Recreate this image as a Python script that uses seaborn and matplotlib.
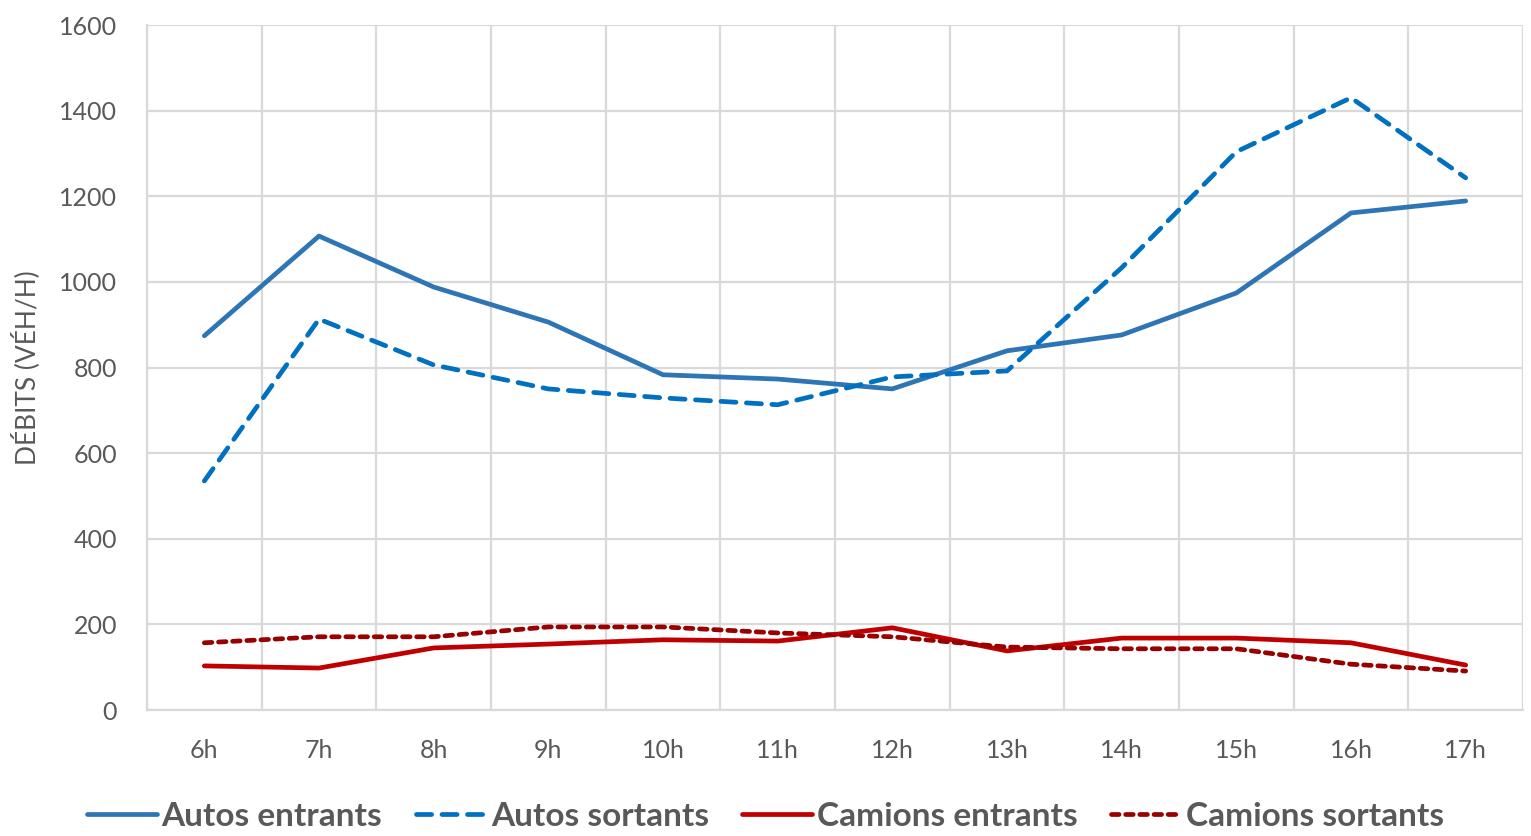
import matplotlib
matplotlib.use('Agg')
import matplotlib.pyplot as plt
import seaborn as sns
import pandas as pd
import numpy as np

# Données (véh/h)
heures = ['6h', '7h', '8h', '9h', '10h', '11h', '12h', '13h', '14h', '15h', '16h', '17h']
autos_entrants = [874, 1107, 988, 906, 783, 773, 750, 839, 876, 974, 1161, 1189]
autos_sortants = [535, 913, 806, 750, 729, 713, 778, 792, 1033, 1304, 1430, 1243]
camions_entrants = [103, 98, 145, 154, 164, 161, 192, 138, 168, 168, 157, 105]
camions_sortants = [157, 171, 171, 194, 194, 180, 171, 147, 143, 143, 107, 91]
y_ticks = [0, 200, 400, 600, 800, 1000, 1200, 1400, 1600]

sns.set_theme(style='white')
plt.rcParams['font.family'] = ['Lato', 'DejaVu Sans']

fig = plt.figure(figsize=(15.31, 8.36), dpi=100)
ax = fig.add_axes([147 / 1531, 1 - 710 / 836, (1523 - 147) / 1531, (710 - 25) / 836])

x = np.arange(len(heures))
series = [
    ('Autos entrants', autos_entrants, '#2E75B6', None),
    ('Autos sortants', autos_sortants, '#0070C0', (3.2, 2.2)),
    ('Camions entrants', camions_entrants, '#C00000', None),
    ('Camions sortants', camions_sortants, '#990000', (1.6, 1.4)),
]
for nom, vals, couleur, dash in series:
    sns.lineplot(x=x, y=vals, ax=ax, color=couleur, linewidth=3.4, label=nom)
    ligne = ax.get_lines()[-1]
    if dash is not None:
        ligne.set_dashes(dash)
    ligne.set_dash_capstyle('round')
    ligne.set_solid_capstyle('round')
    ligne.set_solid_joinstyle('round')

ax.set_xlim(-0.5, len(heures) - 0.5)
ax.set_ylim(0, 1600)
ax.set_yticks(y_ticks)
ax.set_xticks(x)
ax.set_xticklabels(heures)
ax.set_xticks(np.arange(-0.5, len(heures), 1), minor=True)

grille = '#D9D9D9'
ax.grid(True, axis='y', which='major', color=grille, linewidth=1.6)
ax.grid(True, axis='x', which='minor', color=grille, linewidth=1.6)
ax.grid(False, axis='x', which='major')
for cote in ['top', 'right']:
    ax.spines[cote].set_visible(False)
for cote in ['bottom', 'left']:
    ax.spines[cote].set_color(grille)
    ax.spines[cote].set_linewidth(1.6)
ax.tick_params(axis='x', which='both', length=0, labelsize=18, labelcolor='#595959', pad=21)
ax.tick_params(axis='y', which='major', length=7.5, width=1.6, color=grille, direction='out',
               labelsize=18, labelcolor='#595959', pad=14)
ax.tick_params(axis='y', which='minor', length=0)

ax.set_xlabel('')
ax.set_ylabel('DÉBITS (VÉH/H)', fontsize=19, color='#595959')
ax.yaxis.set_label_coords(-0.078, 0.5)

ax.get_legend().remove()
handles, labels = ax.get_legend_handles_labels()
leg = fig.legend(handles, labels, loc='lower center', ncol=4, bbox_to_anchor=(0.5, -0.03),
                 frameon=False, handlelength=2.1, handletextpad=0.15, columnspacing=1.0,
                 prop={'family': 'Lato', 'weight': 'bold', 'size': 24})
for t in leg.get_texts():
    t.set_color('#595959')

fig.savefig('out.png', dpi=100)
